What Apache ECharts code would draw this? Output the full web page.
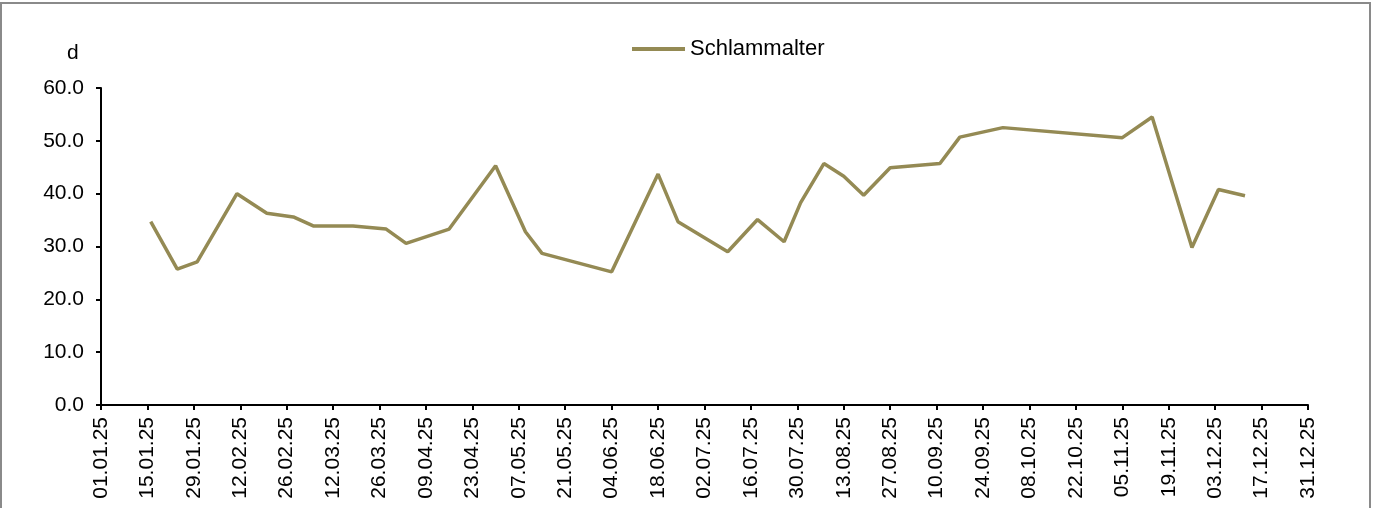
<!DOCTYPE html>
<html>
<head>
<meta charset="utf-8">
<script src="https://cdn.jsdelivr.net/npm/echarts@6/dist/echarts.min.js"></script>
<style>
  html, body { margin: 0; padding: 0; background: #fff; }
  #chart { width: 1373px; height: 508px; }
</style>
</head>
<body>
<div id="chart"></div>
<script>
// Probenahmetage (dd.mm.yy) und Schlammalter in Tagen
const sampleDates = [
  '16.01.25', '24.01.25', '30.01.25', '11.02.25', '20.02.25', '28.02.25',
  '06.03.25', '18.03.25', '28.03.25', '03.04.25', '16.04.25', '30.04.25',
  '09.05.25', '14.05.25', '04.06.25', '18.06.25', '24.06.25', '09.07.25',
  '18.07.25', '26.07.25', '31.07.25', '07.08.25', '13.08.25', '19.08.25',
  '27.08.25', '11.09.25', '17.09.25', '30.09.25', '05.11.25', '14.11.25',
  '26.11.25', '04.12.25', '12.12.25'
];
const sludgeAge = [
  34.7, 25.7, 27.1, 40.0, 36.3, 35.6,
  33.9, 33.9, 33.3, 30.6, 33.3, 45.3,
  32.8, 28.7, 25.2, 43.7, 34.7, 29.0,
  35.1, 30.9, 38.3, 45.7, 43.3, 39.7,
  44.9, 45.7, 50.7, 52.5, 50.6, 54.5,
  29.8, 40.8, 39.6
];
const seriesName = 'Schlammalter';
const unitLabel = 'd';
const yTicks = { min: 0, max: 60, step: 10 };
const xTicks = { first: 0, last: 364, step: 14 }; // Tage ab 01.01.25

const DAY = 86400000;
const yearStart = Date.UTC(2025, 0, 1);

function toDay(str) {
  const [d, m, y] = str.split('.').map(Number);
  return Math.round((Date.UTC(2000 + y, m - 1, d) - yearStart) / DAY);
}
function dayLabel(v) {
  const dt = new Date(yearStart + v * DAY);
  const pad = n => String(n).padStart(2, '0');
  return pad(dt.getUTCDate()) + '.' + pad(dt.getUTCMonth() + 1) + '.' + String(dt.getUTCFullYear()).slice(2);
}

const points = sampleDates.map((s, i) => [toDay(s), sludgeAge[i]]);

const font = 'Arial, "Liberation Sans", sans-serif';
const chart = echarts.init(document.getElementById('chart'));

chart.setOption({
  animation: false,
  backgroundColor: '#fff',
  textStyle: { fontFamily: font },
  title: {
    text: unitLabel,
    left: 62,
    top: 38,
    textStyle: { fontSize: 21, fontWeight: 'normal', color: '#000', fontFamily: font }
  },
  legend: {
    data: [seriesName],
    left: 627,
    top: 33,
    itemWidth: 53,
    itemHeight: 4,
    itemGap: 10,
    icon: 'rect',
    textStyle: { fontSize: 22, color: '#000', fontFamily: font }
  },
  grid: {
    left: 101,
    right: 65,
    top: 88,
    bottom: 103,
    containLabel: false
  },
  xAxis: {
    type: 'value',
    min: xTicks.first,
    max: xTicks.last,
    interval: xTicks.step,
    axisLine: { lineStyle: { color: '#000', width: 2 } },
    axisTick: { show: true, length: 5, lineStyle: { color: '#000', width: 2 } },
    splitLine: { show: false },
    axisLabel: {
      rotate: 90,
      margin: 12,
      fontSize: 21,
      color: '#000',
      fontFamily: font,
      formatter: v => dayLabel(v)
    }
  },
  yAxis: {
    type: 'value',
    min: yTicks.min,
    max: yTicks.max,
    interval: yTicks.step,
    axisLine: { show: true, lineStyle: { color: '#000', width: 2 } },
    axisTick: { show: true, length: 5, lineStyle: { color: '#000', width: 2 } },
    splitLine: { show: false },
    axisLabel: {
      margin: 17,
      fontSize: 21,
      color: '#000',
      fontFamily: font,
      formatter: v => v.toFixed(1)
    }
  },
  graphic: [{
    type: 'rect',
    silent: true,
    z: -1,
    shape: { x: 1, y: 3, width: 1369, height: 540 },
    style: { fill: 'none', stroke: '#8a8a8a', lineWidth: 2 }
  }],
  series: [{
    name: seriesName,
    type: 'line',
    data: points,
    showSymbol: false,
    symbol: 'none',
    lineStyle: { color: '#948A54', width: 3.5 },
    itemStyle: { color: '#948A54' }
  }]
});
</script>
</body>
</html>
